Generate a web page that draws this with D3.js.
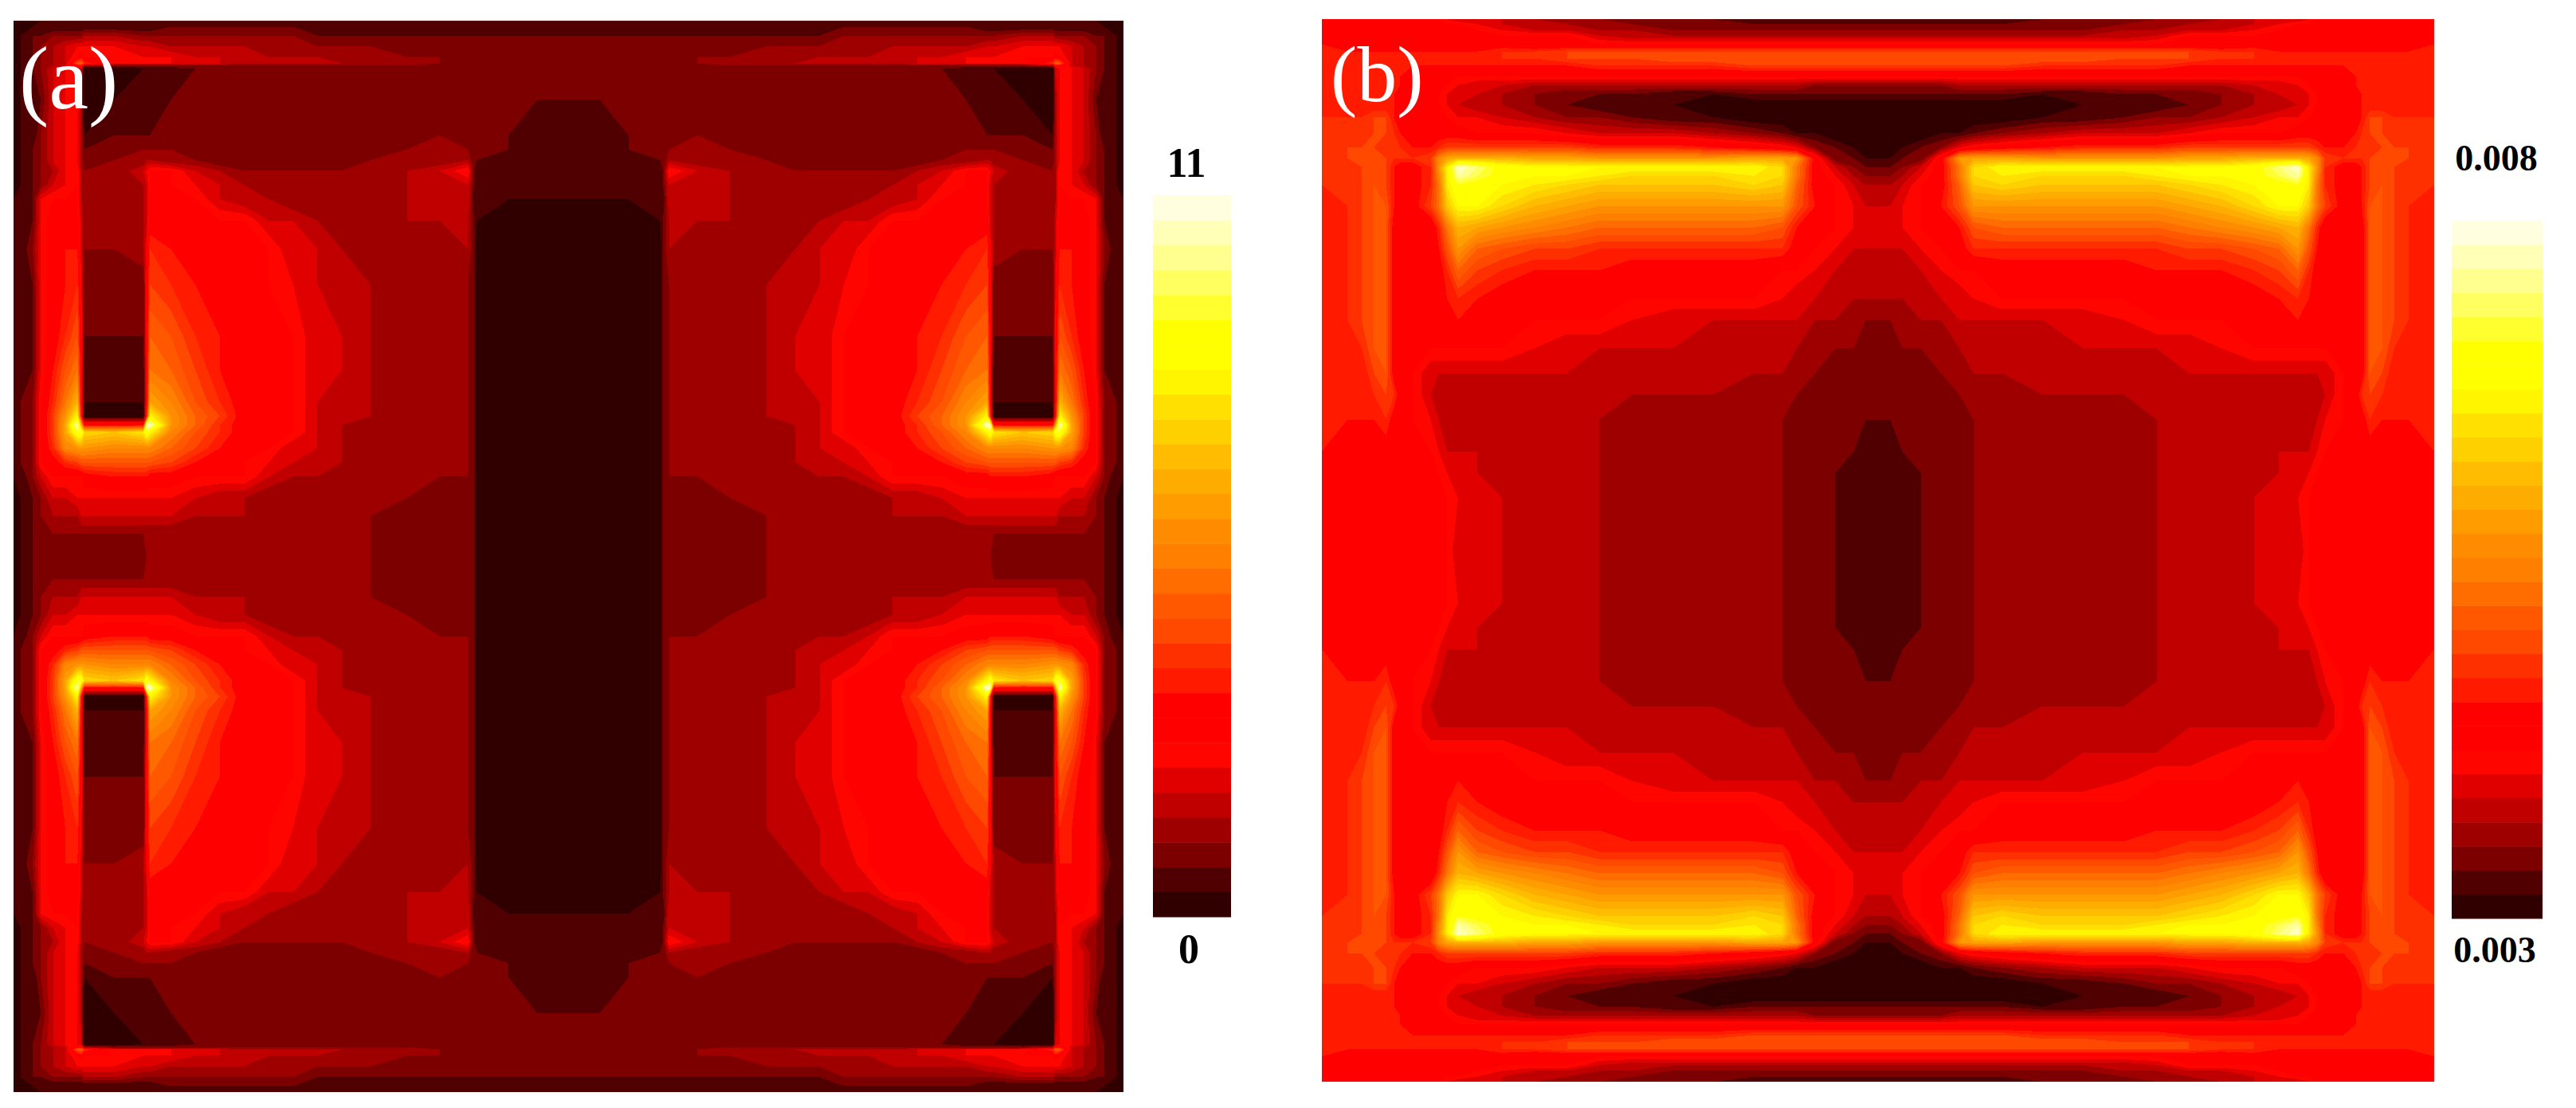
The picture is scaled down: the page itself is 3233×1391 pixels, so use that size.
<!DOCTYPE html>
<html>
<head>
<meta charset="utf-8">
<script src="https://cdn.jsdelivr.net/npm/d3@7"></script>
<style>
  body { margin: 0; background: #fff; }
  text { font-family: "Liberation Serif", serif; }
</style>
</head>
<body>
<div id="plot"></div>
<script>
// Colour bands of the colour bar, bottom to top
const bandColors = ["#300000","#500000","#7c0000","#9e0000","#c00000","#e00000","#ff0500","#ff0000","#ff0000",
  "#ff1a00","#ff3000","#ff4800","#ff5800","#ff6c00","#ff8000","#ff8c00","#ff9c00","#ffac00","#ffbc00","#ffd000",
  "#ffe000","#fff500","#ffff00","#ffff00","#ffff30","#ffff60","#ffff90","#ffffb8","#ffffe0"];

const tickLabelsA = ["0", "11"];
const tickLabelsB = ["0.003", "0.008"];

// Panel (a): band, top left quarter of the map
const meshXA = [33,50,80,100,130,160,190,200,207,280,352,360,368,420,480,540,600,660,720,780,840,910,1000,1080,1150,1165,1172,1250,1320,1397];
const meshYA = [58,75,100,130,160,178,184,192,280,380,420,450,480,520,560,620,700,800,945,1040,1130,1170,1195,1215,1260,1300,1340,1400,1450,1500,1564];
const fieldA = [
  [0,0,0,1,1,1,1,1,1,1,1,1,1,1,1,1,1,1,1,1,1,1,1,1,1,1,1,1,1,1],
  [0,0,1,1,1,1,1,1,1,1,1,1,1,2,2,2,2,2,2,1,1,1,1,1,1,1,1,1,1,1],
  [0,1,2,2,3,3,3,3,4,4,3,3,3,3,3,3,3,3,3,2,2,2,2,2,2,2,2,2,2,2],
  [0,1,2,3,4,5,6,6,6,6,5,5,5,4,4,4,4,3,3,3,3,3,2,2,2,2,2,2,2,2],
  [0,1,2,3,4,5,7,8,7,7,6,6,6,6,5,5,4,4,4,4,3,3,3,3,2,2,2,2,2,2],
  [0,1,2,3,4,5,12,13,10,6,6,6,6,6,5,5,4,4,4,4,4,3,3,3,2,2,2,2,2,2],
  [0,1,2,3,4,5,9,8,4,3,3,3,3,3,3,3,3,3,3,3,3,3,3,2,2,2,2,2,2,2],
  [0,1,2,3,5,6,6,5,0,0,1,1,1,1,2,2,2,2,2,2,2,2,2,2,2,2,2,2,2,2],
  [0,1,1,2,5,6,6,4,0,1,1,1,1,2,2,2,2,2,2,2,2,2,2,2,2,2,2,2,2,2],
  [0,1,1,3,5,6,6,4,1,2,2,2,2,2,2,2,2,2,2,2,2,2,2,3,2,2,2,2,1,1],
  [0,1,2,3,5,6,6,4,2,2,3,3,3,3,2,2,2,2,2,2,2,2,3,3,3,2,2,2,1,1],
  [0,1,2,3,5,6,6,4,2,3,3,4,4,3,3,2,2,2,2,2,2,3,3,3,4,2,2,1,1,1],
  [0,1,2,3,4,6,7,4,3,3,5,6,7,7,5,4,3,3,3,3,3,3,4,5,7,2,1,1,1,1],
  [0,1,2,3,5,6,7,4,3,3,4,5,7,7,6,5,4,3,3,3,3,3,4,4,5,2,1,1,1,1],
  [1,1,2,6,7,7,7,4,3,3,4,5,7,7,7,5,4,4,3,3,3,3,4,4,5,1,1,1,1,1],
  [1,1,2,6,8,8,8,5,3,3,4,5,8,8,7,7,7,5,5,4,3,3,4,4,4,2,1,0,0,0],
  [1,1,3,6,8,9,9,5,3,3,4,6,10,9,8,7,7,7,5,5,4,3,3,3,4,2,0,0,0,0],
  [1,1,2,6,8,9,10,6,2,2,2,7,11,10,9,8,7,7,6,5,4,4,3,3,3,2,0,0,0,0],
  [1,1,2,6,8,10,12,7,2,2,2,7,13,12,10,9,7,7,7,5,5,4,3,3,3,2,0,0,0,0],
  [1,1,2,6,9,12,14,7,1,1,1,7,14,13,11,9,8,7,7,5,5,4,3,3,3,2,0,0,0,0],
  [1,2,3,7,10,14,18,7,1,1,1,7,17,15,12,10,8,7,7,5,4,4,3,3,3,2,0,0,0,0],
  [1,2,3,7,11,16,22,8,0,0,0,9,22,16,13,11,8,7,7,5,4,4,3,3,3,2,0,0,0,0],
  [1,2,3,7,11,17,28,17,9,9,9,28,28,16,13,10,8,7,7,5,4,3,3,3,3,2,0,0,0,0],
  [1,2,3,7,11,17,24,24,20,19,21,24,22,15,12,10,8,7,7,5,4,3,3,3,3,2,0,0,0,0],
  [1,2,3,7,10,15,16,16,16,15,15,15,15,13,11,9,8,7,5,5,4,3,3,3,3,2,0,0,0,0],
  [1,2,3,7,8,10,11,12,12,12,12,12,12,11,9,8,7,6,5,4,4,3,3,3,3,2,0,0,0,0],
  [1,1,3,5,7,7,7,7,8,9,9,9,8,8,7,7,7,5,4,4,3,3,3,3,3,2,0,0,0,0],
  [0,1,2,3,5,5,6,6,6,6,6,6,6,6,5,4,4,3,3,3,3,3,3,2,2,2,0,0,0,0],
  [0,1,2,3,4,4,4,5,5,5,5,5,5,5,4,4,4,3,3,3,3,3,2,2,2,2,0,0,0,0],
  [0,1,2,2,3,3,3,3,3,3,3,3,3,3,3,3,3,3,3,3,3,3,2,2,2,2,0,0,0,0],
  [0,1,2,2,2,2,2,2,2,2,2,3,3,3,3,3,3,3,3,3,3,3,2,2,2,2,0,0,0,0]
];

// Panel (b): same idea
const meshXB = [37,100,135,165,195,215,230,260,305,325,345,372,420,480,560,640,720,800,900,1000,1100,1170,1205,1250,1300,1345,1375,1405];
const meshYB = [54,68,85,100,125,145,165,185,215,240,265,295,330,375,415,445,470,495,520,580,640,700,760,840,900,980,1050,1110,1180,1270,1330,1400,1548];
const fieldB = [
  [7,7,7,7,7,7,7,7,7,7,6,5,5,5,4,3,3,2,2,2,1,1,1,1,1,1,1,1],
  [8,7,7,7,7,7,7,7,7,7,7,7,6,5,4,4,3,3,2,2,2,2,2,2,2,2,2,2],
  [8,8,8,8,8,8,7,7,7,7,7,7,7,6,5,5,4,4,3,3,3,3,3,3,3,3,3,3],
  [9,8,8,8,8,8,8,8,8,8,8,8,7,7,7,7,5,4,4,4,4,4,4,4,4,4,4,4],
  [9,8,8,8,8,8,8,8,8,8,8,8,8,8,7,7,7,7,7,7,7,7,7,7,7,7,7,7],
  [9,9,9,9,9,9,9,9,9,9,9,9,9,10,10,11,11,11,11,11,11,11,11,11,11,11,11,11],
  [9,9,9,9,9,9,9,9,9,9,9,9,9,10,10,11,11,11,12,12,12,12,12,12,12,12,12,12],
  [9,9,9,9,9,9,9,9,9,9,9,9,9,9,9,9,10,10,10,10,11,11,11,11,11,11,11,11],
  [9,9,9,9,9,9,9,7,7,7,7,7,7,7,7,7,7,7,7,7,7,7,7,7,7,7,7,7],
  [9,9,9,9,9,9,9,7,7,7,7,6,5,5,4,4,4,4,4,4,4,4,4,3,3,3,3,3],
  [9,9,9,9,9,9,8,7,7,7,6,5,5,4,3,2,2,2,1,1,2,2,2,2,2,2,2,2],
  [9,9,9,9,9,9,8,7,7,7,6,5,4,4,3,2,1,1,1,0,0,0,0,0,0,0,0,0],
  [10,10,10,11,11,9,8,7,7,7,7,6,6,5,4,3,3,2,1,1,0,0,0,0,0,0,0,0],
  [10,10,10,11,11,10,9,8,8,8,8,8,7,7,7,6,5,5,5,4,3,2,1,1,0,0,0,0],
  [10,11,11,11,10,10,10,9,9,10,11,11,11,11,11,11,10,10,10,9,8,7,6,3,2,1,0,0],
  [10,11,11,12,11,10,10,10,11,15,17,18,18,18,17,17,16,16,16,16,17,17,16,8,2,2,1,1],
  [10,10,11,12,11,9,8,8,10,16,21,28,26,23,22,22,22,22,22,22,22,20,14,8,5,3,2,2],
  [10,10,11,12,11,9,8,8,10,15,21,27,25,23,22,22,21,20,20,20,21,20,14,8,6,4,3,3],
  [10,10,11,12,11,9,8,8,10,14,21,24,23,22,21,20,19,19,19,19,20,19,13,8,7,5,4,4],
  [9,10,11,12,12,9,8,8,11,14,19,22,22,20,18,17,16,16,16,16,16,16,12,9,7,6,5,5],
  [9,10,11,12,12,8,8,8,7,10,14,18,17,16,15,14,13,13,13,13,13,12,9,8,7,6,5,5],
  [9,10,11,12,12,8,8,7,7,9,12,16,13,12,11,11,10,10,10,10,10,10,8,7,6,5,5,5],
  [9,10,11,12,12,8,8,7,7,8,10,13,11,10,9,9,9,8,8,8,8,7,7,6,5,4,4,4],
  [9,10,11,12,12,8,7,7,7,7,9,10,9,8,8,7,7,7,7,7,7,6,5,5,4,4,4,4],
  [9,10,11,12,12,8,7,7,7,7,7,9,8,7,7,7,7,6,5,5,5,5,5,4,4,3,3,3],
  [9,9,10,12,12,8,7,7,7,7,7,7,7,7,6,5,5,5,5,4,4,4,4,3,3,3,2,2],
  [9,9,9,11,12,8,7,7,5,5,5,5,5,5,5,5,4,4,4,4,4,4,3,3,2,2,2,2],
  [9,9,9,10,11,10,8,7,5,4,4,4,4,4,4,4,4,4,4,4,3,3,3,2,2,2,2,2],
  [9,9,9,9,10,8,8,7,6,5,4,4,4,4,4,4,4,3,3,3,3,3,2,2,2,2,2,2],
  [9,8,8,8,8,7,7,7,7,6,5,5,5,4,4,4,4,3,3,3,3,3,2,2,2,2,1,1],
  [8,8,8,8,8,7,7,7,7,7,6,5,5,4,4,4,4,3,3,3,3,3,2,2,2,1,1,1],
  [8,7,7,7,7,7,7,7,7,7,7,6,5,5,4,4,4,3,3,3,3,3,2,2,2,1,1,1],
  [9,7,7,7,7,7,7,7,7,7,7,5,5,5,4,4,4,3,3,3,3,3,2,2,2,1,1,1]
];

const width = 3233;
const height = 1391;

const svg = d3.select("#plot")
  .append("svg")
  .attr("width", width)
  .attr("height", height)
  .style("display", "block");

const bandLevels = d3.range(bandColors.length);

// Mirror a quarter mesh into the whole map
function mirrorNodes(nodes) {
  const c = nodes[nodes.length - 1];
  return nodes.concat(nodes.slice(0, -1).reverse().map(d => 2 * c - d));
}

function drawField(meshX, meshY, field, box) {
  field.forEach(r => { if (r.length !== meshX.length) throw new Error("bad row length " + r.length); });
  if (field.length !== meshY.length) throw new Error("bad row count");

  const rows = field.map(r => r.concat(r.slice(0, -1).reverse()));
  const full = rows.concat(rows.slice(0, -1).reverse());
  const nx = full[0].length;
  const ny = full.length;
  const allX = mirrorNodes(meshX);
  const allY = mirrorNodes(meshY);

  // grid index -> mesh unit -> pixel
  const x = d3.scaleLinear().domain(d3.range(nx).map(i => i + 0.5)).range(allX.map(
    d3.scaleLinear().domain([allX[0], allX[nx - 1]]).range([box.x0, box.x1]))).clamp(true);
  const y = d3.scaleLinear().domain(d3.range(ny).map(i => i + 0.5)).range(allY.map(
    d3.scaleLinear().domain([allY[0], allY[ny - 1]]).range([box.y0, box.y1]))).clamp(true);

  const contours = d3.contours().size([nx, ny]).thresholds(bandLevels)(full.flat());
  const path = d3.geoPath(d3.geoTransform({
    point(px, py) { this.stream.point(x(px), y(py)); }
  }));

  svg.append("rect")
    .attr("x", box.x0).attr("y", box.y0)
    .attr("width", box.x1 - box.x0).attr("height", box.y1 - box.y0)
    .attr("fill", bandColors[0]);

  svg.append("g").selectAll("path")
    .data(contours)
    .join("path")
    .attr("d", path)
    .attr("fill", d => bandColors[d.value])
    .attr("shape-rendering", "crispEdges");
}

function drawColorBar(box, labels, lowPos, highPos, fontSize) {
  const y = d3.scaleBand().domain(bandLevels.slice().reverse()).range([box.y0, box.y1]);
  svg.append("g").selectAll("rect")
    .data(bandLevels)
    .join("rect")
    .attr("x", box.x0)
    .attr("y", d => y(d))
    .attr("width", box.x1 - box.x0)
    .attr("height", y.bandwidth() + 0.5)
    .attr("fill", d => bandColors[d]);

  [lowPos, highPos].forEach((p, i) => {
    svg.append("text")
      .attr("x", p[0]).attr("y", p[1])
      .attr("text-anchor", "middle")
      .style("font-weight", "bold")
      .style("font-size", fontSize + "px")
      .text(labels[i]);
  });
}

function panelLabel(txt, px, py, size) {
  svg.append("text")
    .attr("x", px).attr("y", py)
    .attr("fill", "#fff")
    .style("font-size", size + "px")
    .text(txt);
}

drawField(meshXA, meshYA, fieldA, {x0: 17, x1: 1410, y0: 26, y1: 1371});
drawField(meshXB, meshYB, fieldB, {x0: 1659, x1: 3055, y0: 24, y1: 1358});

drawColorBar({x0: 1447, x1: 1545, y0: 245, y1: 1151}, tickLabelsA, [1492, 1209], [1489, 222], 52);
drawColorBar({x0: 3077, x1: 3191, y0: 277, y1: 1153}, tickLabelsB, [3131, 1208], [3133, 214], 46);

panelLabel("(a)", 24, 136, 112);
panelLabel("(b)", 1670, 127, 100);
</script>
</body>
</html>
